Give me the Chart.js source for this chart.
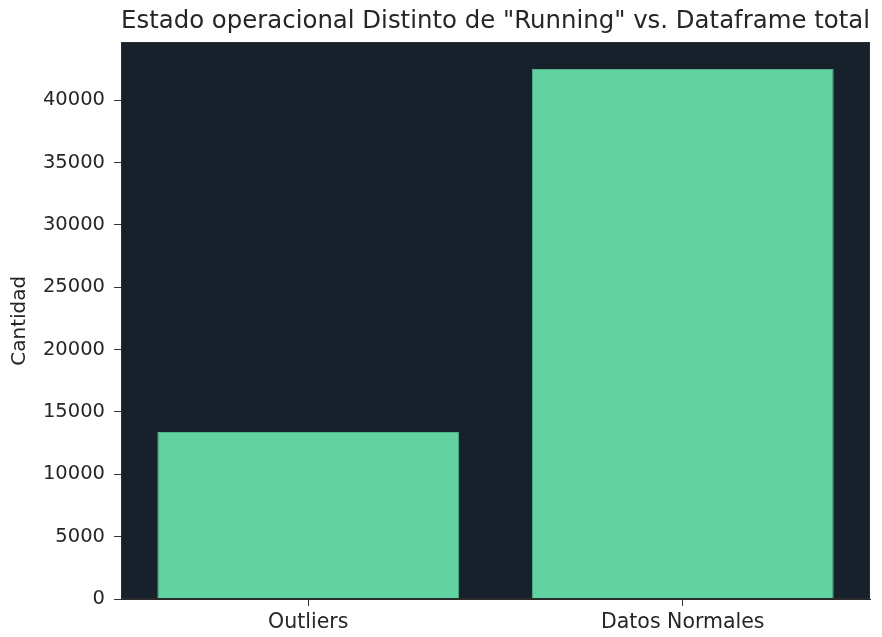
<!DOCTYPE html>
<html>
<head>
<meta charset="utf-8">
<script src="https://cdn.jsdelivr.net/npm/chart.js@4"></script>
<style>
html,body{margin:0;padding:0;background:#ffffff;}
#wrap{width:882px;height:637px;}
</style>
</head>
<body>
<div id="wrap"><canvas id="c" width="882" height="637"></canvas></div>
<script>
const categories = ["Outliers", "Datos Normales"];
const counts = [13400, 42500];
const yTicks = [0, 5000, 10000, 15000, 20000, 25000, 30000, 35000, 40000];
const titleText = 'Estado operacional Distinto de "Running" vs. Dataframe total';
const yLabel = "Cantidad";

const FONT = "'DejaVu Sans', sans-serif";
const TEXT = "#262626";

const plotBg = {
  id: 'plotBg',
  beforeDraw(chart) {
    const {ctx, chartArea: a} = chart;
    ctx.save();
    ctx.fillStyle = '#16212b';
    ctx.fillRect(a.left, a.top, a.right - a.left, a.bottom - a.top);
    ctx.restore();
  },
  afterDraw(chart) {
    const {ctx, chartArea: a} = chart;
    ctx.save();
    ctx.strokeStyle = '#2b2b2b';
    ctx.lineWidth = 1;
    ctx.strokeRect(Math.round(a.left) + 0.5, Math.round(a.top) + 0.5, Math.round(a.right - a.left) - 1, Math.round(a.bottom - a.top) - 1);
    ctx.restore();
  }
};

new Chart(document.getElementById('c'), {
  type: 'bar',
  data: {
    labels: categories,
    datasets: [{
      data: counts,
      backgroundColor: '#62d2a2',
      borderColor: '#4fb388',
      borderWidth: 1,
      barPercentage: 0.806,
      categoryPercentage: 1.0
    }]
  },
  options: {
    responsive: false,
    animation: false,
    layout: { padding: { left: 0, right: 12, top: 0, bottom: 0 } },
    plugins: {
      legend: { display: false },
      tooltip: { enabled: false },
      title: {
        display: true,
        text: titleText,
        fullSize: false,
        color: TEXT,
        font: { family: FONT, size: 24.5, weight: 'normal' },
        padding: { top: 7, bottom: 6 }
      }
    },
    scales: {
      x: {
        offset: true,
        grid: { display: true, drawOnChartArea: false, drawTicks: true, tickLength: 7, offset: false, color: '#333333', tickWidth: 1 },
        border: { display: true, color: '#2b2b2b' },
        ticks: { color: TEXT, font: { family: FONT, size: 20.5 }, padding: 4 },
        afterFit(scale) { scale.height = 38; }
      },
      y: {
        min: 0,
        max: 44630,
        afterBuildTicks(scale) { scale.ticks = yTicks.map(v => ({ value: v })); },
        grid: { display: true, drawOnChartArea: false, drawTicks: true, tickLength: 7, color: '#333333' },
        border: { display: true, color: '#2b2b2b' },
        ticks: { color: TEXT, font: { family: FONT, size: 19.5 }, padding: 9, callback: (v) => String(v) },
        title: { display: true, text: yLabel, color: TEXT, font: { family: FONT, size: 20 }, padding: { top: 8, bottom: 0 } },
        afterFit(scale) { scale.width = 121; }
      }
    }
  },
  plugins: [plotBg]
});
</script>
</body>
</html>
